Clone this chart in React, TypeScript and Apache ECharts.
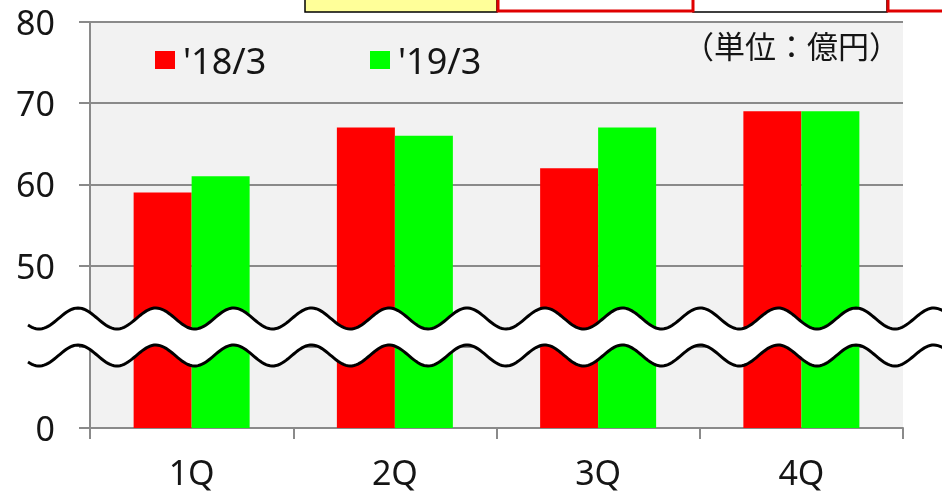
import React, { useEffect, useRef } from "react";
import * as echarts from "echarts";

const categories = ["1Q", "2Q", "3Q", "4Q"];
const series18 = [59, 67, 62, 69];
const series19 = [61, 66, 67, 69];
const seriesNames = ["'18/3", "'19/3"];
const yTickLabels: Record<number, string> = { 30: "0", 40: "", 50: "50", 60: "60", 70: "70", 80: "80" };
const unitText = "（単位：億円）";

const LATIN = "'Noto Sans', 'DejaVu Sans', sans-serif";
const CJK = "'Noto Sans CJK JP', sans-serif";
const TEXT = "#151515";
const AXIS = "#8a8a8a";

function wave(center: number, x0: number, x1: number): number[][] {
  const pts: number[][] = [];
  const P = 77.8;
  const A = 10.5;
  for (let x = x0; x <= x1; x += 2) {
    pts.push([x, center - A * Math.cos((2 * Math.PI * (x - 78)) / P)]);
  }
  return pts;
}

export default function App() {
  const ref = useRef<HTMLDivElement>(null);
  useEffect(() => {
    document.body.style.margin = "0";
    const chart = echarts.init(ref.current!, null, { renderer: "svg" });
    const upper = wave(318.5, 28, 946);
    const lower = wave(355.5, 28, 946);
    const band = [...upper, ...lower.slice().reverse()];
    const legendBase = {
      top: 37,
      itemWidth: 20,
      itemHeight: 18,
      icon: "rect",
      textStyle: { fontSize: 36, color: TEXT, fontFamily: LATIN, lineHeight: 36, padding: [0, 0, 0, 3] },
    };
    chart.setOption({
      animation: false,
      legend: [
        { ...legendBase, left: 150, data: [seriesNames[0]] },
        { ...legendBase, left: 365, data: [seriesNames[1]] },
      ],
      grid: {
        left: 90,
        right: 39,
        top: 22,
        bottom: 69,
        show: true,
        backgroundColor: "#f2f2f2",
        borderWidth: 0,
      },
      xAxis: {
        type: "category",
        data: categories,
        axisLine: { lineStyle: { color: AXIS, width: 2 } },
        axisTick: { show: true, length: 11, alignWithLabel: false, lineStyle: { color: AXIS, width: 2 } },
        axisLabel: { fontSize: 34, color: TEXT, fontFamily: LATIN, margin: 27 },
      },
      yAxis: {
        type: "value",
        min: 30,
        max: 80,
        interval: 10,
        axisLine: { show: true, lineStyle: { color: AXIS, width: 2 } },
        axisTick: { show: true, length: 11, lineStyle: { color: AXIS, width: 2 } },
        splitLine: { show: true, lineStyle: { color: AXIS, width: 2 } },
        axisLabel: {
          fontSize: 34,
          color: TEXT,
          fontFamily: LATIN,
          margin: 35,
          formatter: (v: number) => yTickLabels[v] ?? String(v),
        },
      },
      series: [
        { name: seriesNames[0], type: "bar", data: series18, barWidth: 58, barGap: "0%", itemStyle: { color: "#ff0000" } },
        { name: seriesNames[1], type: "bar", data: series19, barWidth: 58, barGap: "0%", itemStyle: { color: "#00ff00" } },
      ],
      graphic: [
        { type: "rect", z: 100, shape: { x: 305, y: -5, width: 192, height: 17 }, style: { fill: "#ffff99", stroke: "#000", lineWidth: 1.5 } },
        { type: "rect", z: 100, shape: { x: 693, y: -5, width: 194, height: 17 }, style: { fill: "#fff", stroke: "#000", lineWidth: 1.5 } },
        { type: "rect", z: 101, shape: { x: 498, y: -5, width: 195, height: 16 }, style: { fill: "#fff", stroke: "#e00000", lineWidth: 3 } },
        { type: "rect", z: 101, shape: { x: 888, y: -5, width: 80, height: 16 }, style: { fill: "#fff", stroke: "#e00000", lineWidth: 3 } },
        {
          type: "text",
          z: 100,
          right: 42,
          top: 29,
          style: { text: unitText, fontSize: 31, fill: TEXT, fontFamily: CJK },
        },
        { type: "polygon", z: 100, shape: { points: band }, style: { fill: "#ffffff", stroke: "none" } },
        { type: "polyline", z: 101, shape: { points: upper }, style: { stroke: "#000", lineWidth: 3, fill: "none" } },
        { type: "polyline", z: 101, shape: { points: lower }, style: { stroke: "#000", lineWidth: 3, fill: "none" } },
      ],
    });
    return () => chart.dispose();
  }, []);
  return <div ref={ref} style={{ width: 942, height: 497, position: "fixed", left: 0, top: 0 }} />;
}
